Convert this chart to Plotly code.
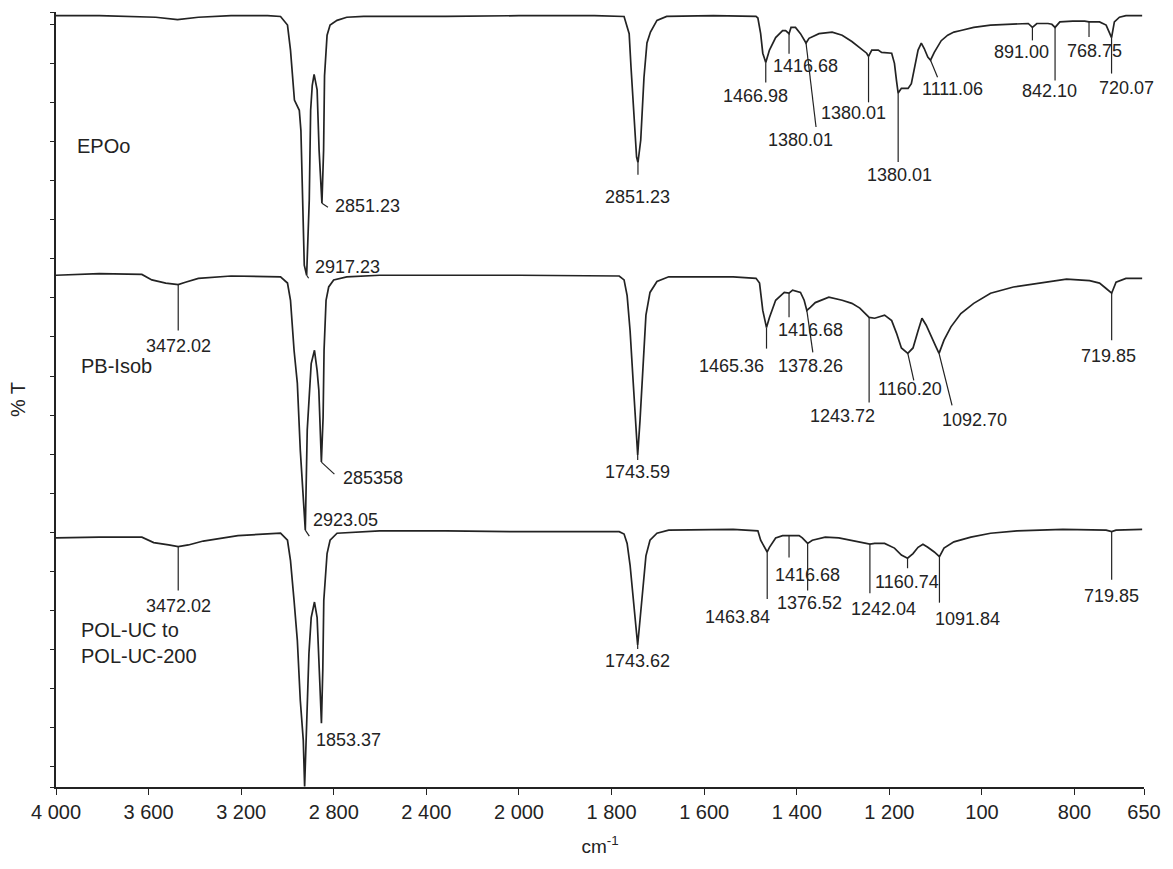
import numpy as np
import plotly.graph_objects as go

# ---------------------------------------------------------------
# FTIR spectra (wavenumber in cm-1, offset transmittance in %T)
# ---------------------------------------------------------------
epoo_wn = [4000, 3813, 3569, 3475, 3385, 3244, 3086, 3030, 3000, 2987, 2970, 2949, 2942,
           2936, 2927.5, 2917.23, 2906, 2900, 2893, 2885, 2872, 2863.5, 2851.23, 2844, 2840,
           2829, 2816, 2786, 2744, 2671, 2316, 2000, 1837, 1773, 1769, 1762, 1758, 1751,
           1746, 1743, 1737, 1730, 1723.6, 1716, 1702, 1681, 1580, 1488, 1484, 1478, 1473.4,
           1466.98, 1459, 1445.6, 1430.6, 1424, 1416.68, 1412.4, 1402.8, 1392, 1380.01,
           1373.5, 1352, 1323.6, 1302, 1281, 1259.5, 1249, 1245, 1238, 1224, 1216.7, 1195,
           1189, 1184.6, 1181, 1174, 1159.6, 1152.5, 1146, 1138, 1131, 1124.7, 1117, 1111.06,
           1103, 1088, 1074, 1060.6, 1045.6, 1017.8, 981.4, 945.7, 911, 900, 891.00, 881.5,
           857.4, 849, 842.10, 836, 831.7, 804, 778, 768.75, 746, 731.8, 724.7, 720.07, 714,
           703, 689, 654]
epoo_t = [96.1, 96.1, 95.9, 95.6, 95.9, 96.1, 96.1, 96.0, 94.9, 91.7, 85.3, 84.0, 81.4,
          72.5, 64.2, 62.9, 72.5, 84.0, 87.2, 88.6, 86.6, 78.9, 72.1, 78.9, 88.4,
          93.6, 94.9, 95.5, 95.9, 96.0, 96.0, 96.1, 96.1, 96.0, 95.1, 93.8, 89.5, 83.1,
          78.0, 77.3, 80.2, 88.2, 92.6, 94.0, 95.5, 96.0, 96.1, 96.0, 95.8, 93.8, 91.3,
          90.1, 91.7, 93.3, 94.2, 94.2, 93.8, 94.6, 94.6, 93.8, 92.6,
          93.2, 93.8, 94.0, 93.6, 92.8, 91.8, 91.3, 90.9, 91.7, 91.7, 91.4, 91.3,
          90.0, 87.8, 86.2, 86.8, 86.8, 87.4, 89.5, 91.7, 92.6, 91.9, 90.8, 90.4,
          91.4, 92.9, 93.6, 94.0, 94.2, 94.6, 94.9, 95.0, 95.1, 95.1, 94.6, 95.1,
          95.1, 95.0, 94.6, 95.1, 95.3, 95.4, 95.4, 95.3, 95.3, 94.9, 93.8, 93.3, 95.3,
          95.9, 96.1, 96.1]

pb_wn = [4000, 3813, 3629, 3586, 3526, 3472.02, 3441, 3385, 3244, 3099, 3030, 3000, 2987,
         2971.6, 2957.5, 2944.6, 2936, 2923.05, 2914.7, 2907.4, 2897.6, 2883.4, 2872,
         2864.6, 2857.8, 2853.58, 2846.2, 2842, 2833.4, 2822, 2800.5, 2744, 2602, 2316,
         2000, 1783.5, 1773, 1766.4, 1760, 1753.6, 1747.2, 1743.59, 1738.6, 1732.2, 1725.8,
         1717, 1702, 1676.6, 1537.5, 1488, 1480.4, 1473.4, 1465.36, 1459, 1445.6, 1427,
         1416.68, 1409, 1392, 1384, 1378.26, 1370.7, 1360, 1330.7, 1302, 1281, 1263.8,
         1243.72, 1231.7, 1210.3, 1195, 1184.6, 1174, 1160.20, 1148.9, 1138, 1129.6,
         1120.4, 1109.8, 1099, 1092.70, 1082, 1067, 1045.6, 1017.8, 981.4, 932, 860,
         817.3, 767.5, 746, 731.8, 719.85, 710.4, 689, 654]
pb_t = [62.9, 63.1, 63.0, 62.3, 61.9, 61.7, 62.0, 62.5, 62.8, 62.7, 62.7, 61.9, 59.7,
        53.3, 49.1, 40.5, 36.3, 30.3, 43.1, 46.9, 51.6, 53.3, 50.7,
        48.2, 42.7, 39.0, 44.7, 53.3, 59.7, 61.4, 62.3, 62.7, 62.9, 62.9,
        62.9, 62.8, 62.3, 60.3, 55.8, 49.5, 43.1, 39.9, 44.3, 52.0, 57.8,
        60.7, 62.1, 62.7, 62.7, 62.5, 61.9, 58.4, 56.2, 57.5, 59.7, 60.7,
        60.6, 61.0, 60.7, 59.7, 58.4, 58.8, 59.4, 60.1, 59.7, 59.3, 58.7,
        57.5, 57.4, 57.8, 57.1, 55.5, 53.6, 52.9, 53.6, 55.8, 57.4,
        56.5, 55.0, 53.7, 52.9, 54.6, 56.3, 58.0, 59.3, 60.6, 61.4, 62.0,
        62.4, 62.2, 61.9, 61.2, 60.6, 62.0, 62.5, 62.5]

pol_wn = [4000, 3813, 3629, 3578, 3513.6, 3472.02, 3428, 3364, 3214, 3030, 3000, 2987,
          2971.6, 2957.5, 2944.6, 2931.8, 2926, 2914.7, 2907.4, 2897.6, 2883.4, 2872,
          2864.6, 2860.3, 2853.37, 2847.5, 2843.2, 2829, 2816, 2786, 2602, 2316, 2000,
          1783.5, 1773, 1766.4, 1760, 1753.6, 1747.2, 1743.62, 1738.6, 1732.2, 1725.8,
          1717, 1702, 1676.6, 1537.5, 1484, 1478, 1463.84, 1459, 1445.6, 1430.6, 1416.68,
          1395, 1388, 1376.52, 1366.4, 1338.6, 1309.3, 1274.5, 1253, 1242.04, 1231.7,
          1210.3, 1189, 1174, 1160.74, 1148.9, 1138, 1127.5, 1117, 1103, 1091.84, 1082,
          1060.6, 1024, 981.4, 924.3, 825.3, 731.8, 719.85, 710.4, 654]
pol_t = [29.3, 29.4, 29.4, 28.7, 28.4, 28.2, 28.4, 28.9, 29.6, 29.9, 29.0, 26.4,
         21.3, 16.2, 8.5, 3.4, -2.5, 8.5, 14.5, 19.1, 21.1, 19.1,
         14.9, 10.7, 5.6, 12.4, 21.3, 27.3, 29.0, 29.9, 30.2, 30.2, 30.1,
         30.1, 29.8, 28.6, 25.8, 22.0, 17.7, 15.6, 18.8, 23.3, 27.0,
         29.0, 29.9, 30.3, 30.4, 30.2, 29.0, 27.5, 28.1, 29.3, 29.6, 29.6,
         29.6, 29.3, 28.6, 29.0, 29.4, 29.3, 28.9, 28.6, 28.5, 28.6,
         28.6, 28.0, 27.1, 26.7, 27.3, 28.1, 28.5, 28.1, 27.5, 26.9, 28.0,
         28.8, 29.4, 29.9, 30.2, 30.4, 30.3, 30.1, 30.3, 30.4]

# axis tick marks (wavenumbers) and their printed labels
tick_wn = [4000, 3600, 3200, 2800, 2400, 2000, 1800, 1600, 1400, 1200, 1000, 800, 650]
tick_text = ["4 000", "3 600", "3 200", "2 800", "2 400", "2 000",
             "1 800", "1 600", "1 400", "1 200", "100", "800", "650"]

# peak labels: wavenumber of the marked band and the printed text
epoo_peak_wn = [2917.23, 2851.23, 1743, 1466.98, 1416.68, 1380.01, 1245, 1181,
                1111.06, 891.00, 842.10, 768.75, 720.07]
epoo_peak_text = ["2917.23", "2851.23", "2851.23", "1466.98", "1416.68", "1380.01",
                  "1380.01", "1380.01", "1111.06", "891.00", "842.10", "768.75", "720.07"]
pb_peak_wn = [3472.02, 2923.05, 2853.58, 1743.59, 1465.36, 1416.68, 1378.26, 1243.72,
              1160.20, 1092.70, 719.85]
pb_peak_text = ["3472.02", "2923.05", "285358", "1743.59", "1465.36", "1416.68",
                "1378.26", "1243.72", "1160.20", "1092.70", "719.85"]
pol_peak_wn = [3472.02, 2853.37, 1743.62, 1463.84, 1416.68, 1376.52, 1242.04, 1160.74,
               1091.84, 719.85]
pol_peak_text = ["3472.02", "1853.37", "1743.62", "1463.84", "1416.68", "1376.52",
                 "1242.04", "1160.74", "1091.84", "719.85"]

# label placement in screen pixels relative to the band minimum:
# (leader end dx, dy, text centre dx, dy); dy grows downwards
epoo_label_place = [(2, 3, 41, -8), (6, 4, 46, 3), (0, 12, 0, 34), (0, 20, -10, 33),
                    (0, 20, 16, 32), (10, 84, -6, 97), (0, 46, -15, 57), (0, 69, 1, 82),
                    (7, 17, 22, 29), (0, 13, -11, 25), (0, 53, -6, 64), (0, 15, 5, 29),
                    (0, 36, 15, 50)]
pb_label_place = [(0, 46, 0, 61), (4, 6, 40, -10), (13, 12, 52, 16), (0, 5, 0, 17),
                  (0, 21, -35, 38), (0, 24, 21, 37), (6, 42, 4, 56), (0, 85, -27, 99),
                  (6, 27, 2, 36), (13, 52, 35, 67), (0, 47, -3, 63)]
pol_label_place = [(0, 44, 0, 59), (0, 0, 27, 17), (0, 4, 0, 16), (0, 47, -30, 65),
                   (0, 22, 18, 39), (0, 47, 2, 60), (0, 49, 14, 65), (0, 10, -1, 24),
                   (0, 46, 28, 62), (0, 48, 0, 64)]

INK = "#232323"
FONT = "Liberation Sans, Arial, Helvetica, sans-serif"


def pos(w):
    """Map wavenumber onto the broken FTIR scale (4000-2000 compressed 2x)."""
    w = np.asarray(w, dtype=float)
    return np.where(w >= 2000, (4000 - w) / 400.0, 5 + (2000 - w) / 200.0)


fig = go.Figure()

spectra = [(epoo_wn, epoo_t, epoo_peak_wn, epoo_peak_text, epoo_label_place),
           (pb_wn, pb_t, pb_peak_wn, pb_peak_text, pb_label_place),
           (pol_wn, pol_t, pol_peak_wn, pol_peak_text, pol_label_place)]

annotations = []
shapes = []
for wn, t, pk_wn, pk_text, place in spectra:
    fig.add_trace(go.Scatter(x=pos(wn), y=t, mode="lines",
                             line=dict(color=INK, width=1.7),
                             showlegend=False, hoverinfo="skip"))
    wn_asc = np.asarray(wn, dtype=float)[::-1]
    t_asc = np.asarray(t, dtype=float)[::-1]
    for w, txt, (ldx, ldy, tdx, tdy) in zip(pk_wn, pk_text, place):
        px = float(pos(w))
        py = float(np.interp(w, wn_asc, t_asc))
        if ldx or ldy:
            # leader line anchored at the band minimum, sized in pixels
            shapes.append(dict(type="line", xref="x", yref="y",
                               xsizemode="pixel", ysizemode="pixel",
                               xanchor=px, yanchor=py,
                               x0=0, y0=0, x1=ldx, y1=-ldy,
                               line=dict(color=INK, width=1.2)))
        annotations.append(dict(x=px, y=py, xref="x", yref="y", text=txt,
                                showarrow=False, xanchor="center", yanchor="middle",
                                xshift=tdx, yshift=-tdy,
                                font=dict(family=FONT, size=18, color=INK)))

# sample names
annotations += [
    dict(x=0.21, y=79.4, xref="x", yref="y", text="EPOo", showarrow=False,
         xanchor="left", yanchor="middle", font=dict(family=FONT, size=20, color=INK)),
    dict(x=0.25, y=51.3, xref="x", yref="y", text="PB-Isob", showarrow=False,
         xanchor="left", yanchor="middle", font=dict(family=FONT, size=20, color=INK)),
    dict(x=0.25, y=15.9, xref="x", yref="y", text="POL-UC to<br>POL-UC-200",
         showarrow=False, xanchor="left", yanchor="middle", align="left",
         font=dict(family=FONT, size=20, color=INK)),
]

y_lo, y_hi = -2.56, 96.57
fig.update_layout(
    width=1173, height=869,
    margin=dict(l=56, r=18, t=12, b=82),
    paper_bgcolor="white", plot_bgcolor="white",
    font=dict(family=FONT, color=INK),
    annotations=annotations,
    shapes=shapes,
    xaxis=dict(range=[0, float(pos(650))], tickvals=pos(tick_wn).tolist(),
               ticktext=tick_text, ticks="outside", ticklen=6, tickwidth=1.3,
               tickcolor=INK, showline=True, linecolor=INK, linewidth=1.5,
               showgrid=False, zeroline=False,
               tickfont=dict(family=FONT, size=20, color=INK),
               title=dict(text="cm<sup>-1</sup>", standoff=18,
                          font=dict(family=FONT, size=19, color=INK))),
    yaxis=dict(range=[y_lo, y_hi], tickvals=[y_lo] + list(range(0, 100, 5)) + [y_hi],
               showticklabels=False, ticks="outside", ticklen=4, tickwidth=1.3,
               tickcolor=INK, showline=True, linecolor=INK, linewidth=1.5,
               showgrid=False, zeroline=False,
               title=dict(text="% T", standoff=19,
                          font=dict(family=FONT, size=20, color=INK))),
)

fig.write_html("out.html")
